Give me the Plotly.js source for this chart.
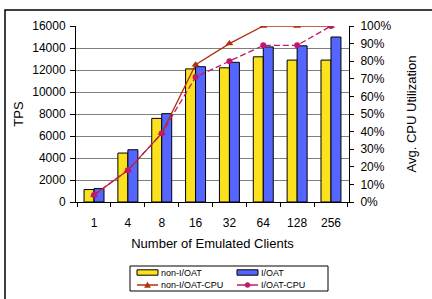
<!DOCTYPE html>
<html><head><meta charset="utf-8">
<script src="https://cdn.plot.ly/plotly-3.0.1.min.js"></script>
<style>html,body{margin:0;padding:0;background:#fff}#chart{width:432px;height:299px}</style>
</head><body><div id="chart"></div>
<script>
const categories = ['1','4','8','16','32','64','128','256'];
const seriesNames = ['non-I/OAT', 'I/OAT', 'non-I/OAT-CPU', 'I/OAT-CPU'];
const tpsNonIOAT = [1130, 4450, 7600, 12100, 12200, 13200, 12900, 12900];
const tpsIOAT = [1220, 4750, 8030, 12300, 12700, 14100, 14200, 15000];
const cpuNonIOAT = [0.04, 0.18, 0.39, 0.78, 0.90, 1.00, 1.00, 1.00];
const cpuIOAT = [0.04, 0.18, 0.39, 0.71, 0.80, 0.89, 0.89, 1.00];

const W = 432, H = 299, L = 76, R = 83, T = 26, B = 97;
const pw = W - L - R, ph = H - T - B;
const px = v => (v - L) / pw;
const py = v => (H - B - v) / ph;

const cYellow = '#FCE21E', cBlue = '#5565FF', cRed = '#B3300F', cPink = '#C0186A';
const font = 'Liberation Sans, Arial, sans-serif';
const data = [
  {type:'bar', name:seriesNames[0], x:categories, y:tpsNonIOAT,
   marker:{color:cYellow, line:{color:'#000', width:1}}},
  {type:'bar', name:seriesNames[1], x:categories, y:tpsIOAT,
   marker:{color:cBlue, line:{color:'#000', width:1}}},
  {type:'scatter', mode:'lines+markers', name:seriesNames[2], x:categories, y:cpuNonIOAT, yaxis:'y2',
   line:{color:cRed, width:1.3}, marker:{symbol:'triangle-up', size:7, color:cRed}},
  {type:'scatter', mode:'lines+markers', name:seriesNames[3], x:categories, y:cpuIOAT, yaxis:'y2',
   line:{color:cPink, width:1.3, dash:'6px,3px'}, marker:{symbol:'circle', size:6, color:cPink}}
];

// custom compact legend (box, symbols, labels)
const shapes = [
  {type:'rect', xref:'paper', yref:'paper', x0:px(5), x1:px(445), y0:py(320), y1:py(10),
    line:{color:'#000', width:1.5}, fillcolor:'rgba(0,0,0,0)', layer:'below'},
  {type:'rect', xref:'paper', yref:'paper', x0:px(130), x1:px(328), y0:py(291), y1:py(266),
    line:{color:'#000', width:1}, fillcolor:'#fff'}
];
const annotations = [];
const cols = [137, 237], rows = [272.5, 285];
const entries = [
  {kind:'bar', color:cYellow, col:0, row:0},
  {kind:'bar', color:cBlue, col:1, row:0},
  {kind:'line', color:cRed, sym:'tri', col:0, row:1},
  {kind:'line', color:cPink, sym:'dot', col:1, row:1}
];
entries.forEach((e, i) => {
  const x0 = cols[e.col], x1 = x0 + 21, yc = rows[e.row];
  if (e.kind === 'bar') {
    shapes.push({type:'rect', xref:'paper', yref:'paper', x0:px(x0), x1:px(x1), y0:py(yc+2.7), y1:py(yc-2.7),
      line:{color:'#000', width:1}, fillcolor:e.color});
  } else {
    shapes.push({type:'line', xref:'paper', yref:'paper', x0:px(x0), x1:px(x1), y0:py(yc), y1:py(yc),
      line:{color:e.color, width:1.5}});
    const xm = (x0 + x1) / 2;
    if (e.sym === 'tri') {
      shapes.push({type:'path', xref:'paper', yref:'paper', fillcolor:e.color, line:{color:e.color, width:0.5},
        path:`M ${px(xm-3)} ${py(yc+2.5)} L ${px(xm+3)} ${py(yc+2.5)} L ${px(xm)} ${py(yc-3)} Z`});
    } else {
      shapes.push({type:'circle', xref:'paper', yref:'paper', fillcolor:e.color, line:{color:e.color, width:0.5},
        x0:px(xm-2.5), x1:px(xm+2.5), y0:py(yc+2.5), y1:py(yc-2.5)});
    }
  }
  annotations.push({xref:'paper', yref:'paper', x:px(x1+1), y:py(yc), xanchor:'left', yanchor:'middle',
    text:seriesNames[i], showarrow:false, font:{size:9, family:font, color:'#000'}});
});

const layout = {
  width: W, height: H,
  margin:{l:L, r:R, t:T, b:B, pad:0},
  paper_bgcolor:'#fff', plot_bgcolor:'#fff',
  font:{family:font, size:12, color:'#000'},
  barmode:'group', bargap:0.41, bargroupgap:0,
  showlegend:false,
  xaxis:{type:'category', tickson:'boundaries', ticks:'outside', ticklen:4, tickcolor:'#000',
    showline:true, linecolor:'#000', linewidth:1, showgrid:false, ticklabelstandoff:10,
    title:{text:'Number of Emulated Clients', font:{size:13}, standoff:9}, tickfont:{size:12}},
  yaxis:{range:[0,16000], dtick:2000, tickformat:'d', ticks:'outside', ticklen:5, tickcolor:'#000',
    showline:true, linecolor:'#000', linewidth:1, gridcolor:'#808080', gridwidth:1,
    zeroline:false, ticklabelstandoff:2, tickfont:{size:12},
    title:{text:'TPS', font:{size:13}, standoff:5}},
  yaxis2:{overlaying:'y', side:'right', range:[0,1], dtick:0.1, tickformat:'.0%',
    ticks:'outside', ticklen:4, tickcolor:'#000', showline:true, linecolor:'#000', linewidth:1,
    showgrid:false, zeroline:false, ticklabelstandoff:4, tickfont:{size:12},
    title:{text:'Avg. CPU Utilization', font:{size:13}, standoff:16}},
  shapes: shapes,
  annotations: annotations
};
Plotly.newPlot('chart', data, layout, {staticPlot:true, displayModeBar:false});
</script></body></html>
